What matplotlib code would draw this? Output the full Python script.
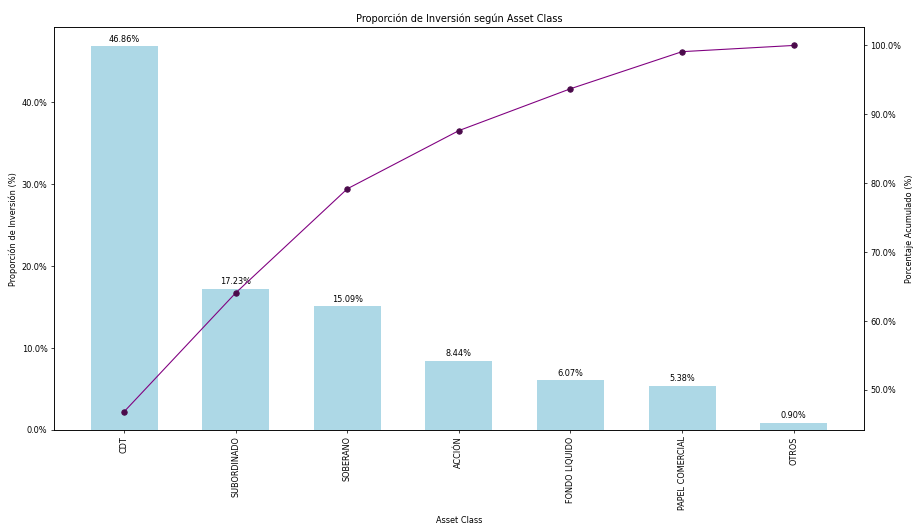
import numpy as np
import matplotlib
matplotlib.use("Agg")
import matplotlib.pyplot as plt
from matplotlib.ticker import PercentFormatter

plt.rcParams['font.size'] = 9

# Datos
clases = ["CDT", "SUBORDINADO", "SOBERANO", "ACCIÓN", "FONDO LIQUIDO", "PAPEL COMERCIAL", "OTROS"]
proporcion = [46.86, 17.23, 15.09, 8.44, 6.07, 5.38, 0.90]
acumulado = np.cumsum(proporcion)

fig, ax1 = plt.subplots(figsize=(14, 8.01), dpi=65.3)

# Barras de proporcion
bars = ax1.bar(clases, proporcion, color='lightblue', width=0.6)
for b, v in zip(bars, proporcion):
    ax1.text(b.get_x() + b.get_width()/2, b.get_height() + 0.3, f"{v:.2f}%",
             ha='center', va='bottom', fontsize=9)
ax1.set_xlabel("Asset Class", labelpad=6)
ax1.set_ylabel("Proporción de Inversión (%)")
ax1.yaxis.set_major_formatter(PercentFormatter(decimals=1))
ax1.tick_params(axis='x', rotation=90)

# Linea acumulada
ax2 = ax1.twinx()
ax2.plot(clases, acumulado, color='purple', marker='o', markersize=6,
         markerfacecolor='#4b0a4b', markeredgecolor='#4b0a4b', linewidth=1.2)
ax2.set_ylabel("Porcentaje Acumulado (%)")
ax2.yaxis.set_major_formatter(PercentFormatter(decimals=1))

plt.title("Proporción de Inversión según Asset Class")
plt.subplots_adjust(left=0.059, right=0.945, top=0.948, bottom=0.178)
plt.savefig("out.png")
